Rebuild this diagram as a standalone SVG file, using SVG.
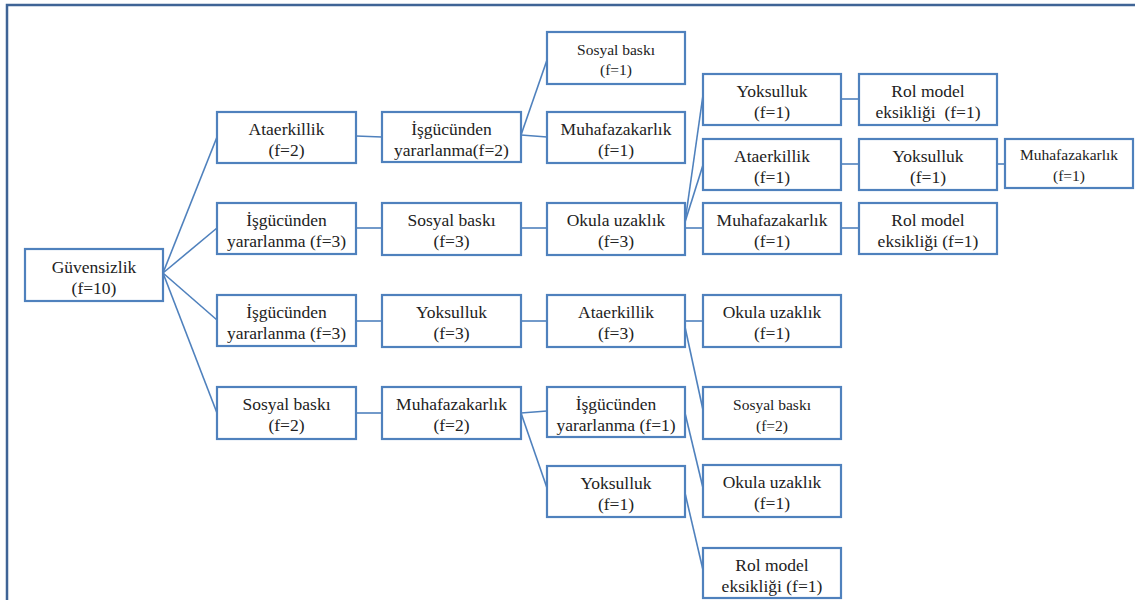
<svg xmlns="http://www.w3.org/2000/svg" width="1135" height="600" viewBox="0 0 1135 600">
<style>
.b{fill:#fff;stroke:#4f81bd;stroke-width:2.2}
.t{font-family:'Liberation Serif','Times New Roman',Times,serif;font-size:17.5px;fill:#222;text-anchor:middle}
.s{font-size:15.5px}
.c line{stroke:#4f81bd;stroke-width:1.6;fill:none}
.f{stroke:#3f6496;stroke-width:2.5;fill:none}
</style>
<rect width="1135" height="600" fill="#fff"/>
<path class="f" d="M7,600 V5 H1135"/>
<g class="c" id="connectors">
<line x1="163" y1="273" x2="217" y2="137"/>
<line x1="163" y1="273" x2="217" y2="228"/>
<line x1="163" y1="273" x2="217" y2="320"/>
<line x1="163" y1="273" x2="217" y2="413"/>
<line x1="356" y1="136" x2="382" y2="137"/>
<line x1="521" y1="135" x2="547" y2="60"/>
<line x1="521" y1="135" x2="547" y2="137"/>
<line x1="356" y1="228" x2="382" y2="228"/>
<line x1="521" y1="228" x2="547" y2="228"/>
<line x1="685" y1="222" x2="703" y2="95"/>
<line x1="685" y1="222" x2="703" y2="165"/>
<line x1="685" y1="228" x2="703" y2="228"/>
<line x1="841" y1="99" x2="859" y2="99"/>
<line x1="841" y1="164" x2="859" y2="164"/>
<line x1="997" y1="164" x2="1005" y2="164"/>
<line x1="841" y1="228" x2="859" y2="228"/>
<line x1="356" y1="321" x2="382" y2="321"/>
<line x1="521" y1="321" x2="547" y2="321"/>
<line x1="685" y1="321" x2="703" y2="321"/>
<line x1="685" y1="327" x2="703" y2="410"/>
<line x1="356" y1="413" x2="382" y2="413"/>
<line x1="521" y1="413" x2="547" y2="411"/>
<line x1="521" y1="413" x2="547" y2="488"/>
<line x1="685" y1="413" x2="703" y2="488"/>
<line x1="685" y1="493" x2="703" y2="570"/>
</g>
<g font-family="Liberation Serif, serif">
<g id="n1"><rect class="b" x="25" y="249" width="138" height="52"/><text class="t" x="94" y="273">Güvensizlik</text><text class="t" x="94" y="294">(f=10)</text></g>
<g id="n2"><rect class="b" x="217" y="112" width="139" height="51"/><text class="t" x="286.5" y="135">Ataerkillik</text><text class="t" x="286.5" y="156">(f=2)</text></g>
<g id="n3"><rect class="b" x="217" y="203" width="139" height="51"/><text class="t" x="286.5" y="226">İşgücünden</text><text class="t" x="286.5" y="247">yararlanma (f=3)</text></g>
<g id="n4"><rect class="b" x="217" y="295" width="139" height="51"/><text class="t" x="286.5" y="318">İşgücünden</text><text class="t" x="286.5" y="339">yararlanma (f=3)</text></g>
<g id="n5"><rect class="b" x="217" y="387" width="139" height="52"/><text class="t" x="286.5" y="410">Sosyal baskı</text><text class="t" x="286.5" y="431">(f=2)</text></g>
<g id="n6"><rect class="b" x="382" y="112" width="139" height="50"/><text class="t" x="451.5" y="135">İşgücünden</text><text class="t" x="451.5" y="156">yararlanma(f=2)</text></g>
<g id="n7"><rect class="b" x="382" y="203" width="139" height="52"/><text class="t" x="451.5" y="226">Sosyal baskı</text><text class="t" x="451.5" y="247">(f=3)</text></g>
<g id="n8"><rect class="b" x="382" y="295" width="139" height="52"/><text class="t" x="451.5" y="318">Yoksulluk</text><text class="t" x="451.5" y="339">(f=3)</text></g>
<g id="n9"><rect class="b" x="382" y="387" width="139" height="52"/><text class="t" x="451.5" y="410">Muhafazakarlık</text><text class="t" x="451.5" y="431">(f=2)</text></g>
<g id="n10"><rect class="b" x="547" y="32" width="138" height="52"/><text class="t s" x="616" y="55">Sosyal baskı</text><text class="t s" x="616" y="75">(f=1)</text></g>
<g id="n11"><rect class="b" x="547" y="112" width="138" height="51"/><text class="t" x="616" y="135">Muhafazakarlık</text><text class="t" x="616" y="156">(f=1)</text></g>
<g id="n12"><rect class="b" x="547" y="203" width="138" height="52"/><text class="t" x="616" y="226">Okula uzaklık</text><text class="t" x="616" y="247">(f=3)</text></g>
<g id="n13"><rect class="b" x="547" y="295" width="138" height="52"/><text class="t" x="616" y="318">Ataerkillik</text><text class="t" x="616" y="339">(f=3)</text></g>
<g id="n14"><rect class="b" x="547" y="387" width="138" height="50"/><text class="t" x="616" y="410">İşgücünden</text><text class="t" x="616" y="431">yararlanma (f=1)</text></g>
<g id="n15"><rect class="b" x="547" y="466" width="138" height="51"/><text class="t" x="616" y="489">Yoksulluk</text><text class="t" x="616" y="510">(f=1)</text></g>
<g id="n16"><rect class="b" x="703" y="74" width="138" height="51"/><text class="t" x="772" y="97">Yoksulluk</text><text class="t" x="772" y="118">(f=1)</text></g>
<g id="n17"><rect class="b" x="703" y="139" width="138" height="51"/><text class="t" x="772" y="162">Ataerkillik</text><text class="t" x="772" y="183">(f=1)</text></g>
<g id="n18"><rect class="b" x="703" y="203" width="138" height="51"/><text class="t" x="772" y="226">Muhafazakarlık</text><text class="t" x="772" y="247">(f=1)</text></g>
<g id="n19"><rect class="b" x="703" y="295" width="138" height="52"/><text class="t" x="772" y="318">Okula uzaklık</text><text class="t" x="772" y="339">(f=1)</text></g>
<g id="n20"><rect class="b" x="703" y="387" width="138" height="52"/><text class="t s" x="772" y="410">Sosyal baskı</text><text class="t s" x="772" y="431">(f=2)</text></g>
<g id="n21"><rect class="b" x="703" y="465" width="138" height="52"/><text class="t" x="772" y="488">Okula uzaklık</text><text class="t" x="772" y="509">(f=1)</text></g>
<g id="n22"><rect class="b" x="703" y="548" width="138" height="50"/><text class="t" x="772" y="571">Rol model</text><text class="t" x="772" y="592">eksikliği (f=1)</text></g>
<g id="n23"><rect class="b" x="859" y="74" width="138" height="51"/><text class="t" x="928" y="97">Rol model</text><text class="t" x="928" y="118" xml:space="preserve">eksikliği  (f=1)</text></g>
<g id="n24"><rect class="b" x="859" y="139" width="138" height="51"/><text class="t" x="928" y="162">Yoksulluk</text><text class="t" x="928" y="183">(f=1)</text></g>
<g id="n25"><rect class="b" x="859" y="203" width="138" height="51"/><text class="t" x="928" y="226">Rol model</text><text class="t" x="928" y="247">eksikliği (f=1)</text></g>
<g id="n26"><rect class="b" x="1005" y="139" width="128" height="49"/><text class="t s" x="1069" y="160">Muhafazakarlık</text><text class="t s" x="1069" y="181">(f=1)</text></g>
</g>
</svg>
